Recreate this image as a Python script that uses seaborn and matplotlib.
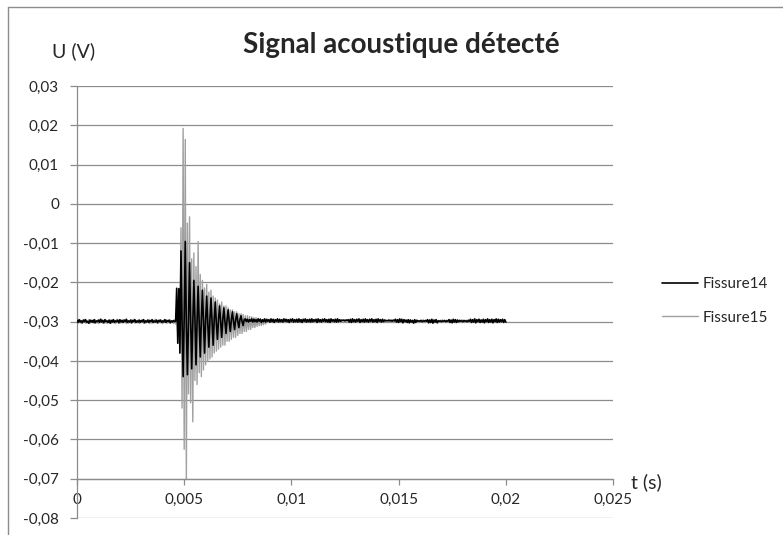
import numpy as np
import pandas as pd
import matplotlib
matplotlib.use("Agg")
import matplotlib.pyplot as plt
import seaborn as sns
from matplotlib.lines import Line2D

# ---------------- data ----------------
dt = 0.00005  # sampling step in seconds
series_names = ["Fissure14", "Fissure15"]

# Fissure14 samples in mV
u14_mV = [
    -29.7, -30.2, -29.5, -30.1, -29.8, -30.3, -29.6, -30.0, -29.5, -30.2,
    -29.9, -30.4, -29.6, -30.1, -29.7, -30.2, -29.5, -30.3, -29.8, -30.0,
    -29.6, -30.2, -29.4, -30.1, -29.7, -30.3, -29.5, -30.0, -29.8, -30.2,
    -29.6, -30.4, -29.7, -30.1, -29.5, -30.2, -29.8, -30.0, -29.6, -30.3,
    -29.5, -30.1, -29.7, -30.2, -29.6, -30.0, -29.4, -30.2, -29.8, -30.1,
    -29.6, -30.3, -29.7, -30.0, -29.5, -30.2, -29.8, -30.1, -29.6, -30.2,
    -29.7, -30.0, -29.5, -30.3, -29.8, -30.1, -29.6, -30.2, -29.7, -30.0,
    -29.5, -30.2, -29.8, -30.1, -29.6, -30.3, -29.7, -30.0, -29.6, -30.2,
    -29.8, -30.1, -29.5, -30.2, -29.7, -30.0, -29.6, -30.3, -29.8, -30.1,
    -29.7, -30.0, -29.9,
    # burst
    -21.5, -35.5, -21.6, -38.0,
    -12.0, -30.0, -44.0, -29.0, -9.6, -31.0, -43.5, -30.0,
    -15.0, -29.5, -42.0, -30.5, -19.5, -29.0, -41.0, -30.0,
    -21.0, -30.5, -39.0, -29.5, -22.0, -30.0, -38.0, -29.5,
    -23.5, -30.5, -36.5, -29.5, -24.0, -30.0, -36.0, -29.5,
    -25.0, -30.5, -34.5, -29.5, -26.0, -30.0, -34.0, -29.5,
    -26.5, -30.0, -33.0, -29.5, -27.0, -30.0, -32.5, -29.5,
    -27.5, -30.0, -32.0, -29.5, -28.0, -30.0, -31.5, -29.5,
    -28.5, -30.0, -31.0, -29.5,
    # tail
    -29.3, -30.0, -29.4, -30.1, -29.5, -29.9, -29.3, -30.1, -29.4, -30.0,
    -29.5, -30.1, -29.3, -29.9, -29.4, -30.2, -29.5, -30.0, -29.3, -30.1,
    -29.4, -29.9, -29.5, -30.1, -29.3, -30.0, -29.4, -30.2, -29.5, -29.9,
    -29.3, -30.1, -29.4, -30.0, -29.5, -30.1, -29.3, -29.9, -29.4, -30.0,
    -29.5, -30.2, -29.4, -29.9, -29.3, -30.1, -29.5, -30.0, -29.4, -30.1,
    -29.3, -30.0, -29.5, -30.2, -29.4, -29.9, -29.3, -30.1, -29.5, -30.0,
    -29.4, -30.1, -29.3, -30.0, -29.5, -29.9, -29.4, -30.2, -29.3, -30.0,
    -29.5, -30.1, -29.4, -29.9, -29.3, -30.0, -29.5, -30.1, -29.4, -30.2,
    -29.3, -29.9, -29.5, -30.0, -29.4, -30.1, -29.3, -30.0, -29.5, -29.9,
    -29.6, -29.7, -29.6, -29.8, -29.6, -29.7, -29.5, -30.1, -29.4, -30.2,
    -29.3, -30.0, -29.5, -30.1, -29.4, -29.9, -29.3, -30.2, -29.5, -30.0,
    -29.4, -30.1, -29.3, -30.0, -29.5, -30.1, -29.4, -29.9, -29.3, -30.1,
    -29.5, -30.0, -29.4, -30.2, -29.3, -29.9, -29.5, -30.1, -29.4, -30.0,
    -29.6, -29.8, -29.7, -29.8, -29.6, -29.8, -29.7, -29.9, -29.6, -29.8,
    -29.4, -30.1, -29.5, -30.2, -29.3, -30.0, -29.4, -30.3, -29.5, -30.0,
    -29.6, -30.2, -29.5, -30.3, -29.6, -30.1, -29.7, -30.4, -29.5, -30.2,
    -29.7, -29.9, -29.8, -29.9, -29.7, -30.0, -29.8, -29.9, -29.7, -29.9,
    -29.5, -30.3, -29.6, -30.2, -29.4, -30.4, -29.6, -30.1, -29.5, -30.3,
    -29.8, -29.9, -29.8, -30.0, -29.8, -29.9, -29.7, -30.0, -29.8, -29.9,
    -29.5, -30.2, -29.6, -30.3, -29.4, -30.1, -29.5, -30.2, -29.6, -30.0,
    -29.7, -29.9, -29.8, -30.0, -29.7, -29.9, -29.8, -30.0, -29.7, -29.9,
    -29.4, -30.2, -29.5, -30.1, -29.3, -30.3, -29.5, -30.0, -29.4, -30.2,
    -29.6, -30.1, -29.4, -30.3, -29.5, -30.0, -29.3, -30.2, -29.5, -30.1,
    -29.4, -30.3, -29.5, -30.0, -29.3, -30.2, -29.4, -30.1, -29.5, -30.0,
    -29.4, -30.2, -29.5, -30.1,
]

# Fissure15 samples in mV
u15_mV = [
    -30.4, -29.5, -30.3, -29.6, -30.5, -29.7, -30.2, -29.4, -30.4, -29.8,
    -30.3, -29.5, -30.5, -29.6, -30.2, -29.7, -30.4, -29.5, -30.3, -29.8,
    -30.5, -29.6, -30.2, -29.4, -30.4, -29.7, -30.3, -29.5, -30.5, -29.8,
    -30.2, -29.6, -30.4, -29.5, -30.3, -29.7, -30.5, -29.4, -30.2, -29.8,
    -30.4, -29.6, -30.3, -29.5, -30.2, -29.7, -30.5, -29.6, -30.4, -29.8,
    -30.3, -29.5, -30.2, -29.4, -30.4, -29.7, -30.3, -29.6, -30.5, -29.8,
    -30.2, -29.5, -30.4, -29.6, -30.3, -29.7, -30.2, -29.5, -30.5, -29.8,
    -30.4, -29.6, -30.3, -29.4, -30.2, -29.7, -30.4, -29.5, -30.3, -29.8,
    -30.5, -29.6, -30.2, -29.5, -30.4, -29.7, -30.3, -29.6, -30.2, -29.8,
    -30.5, -29.6, -30.6, -28.0, -33.0, -25.0, -36.0,
    # burst
    -6.1, -52.0, 19.2, -62.5, 16.4, -70.0, -4.9, -48.4, -3.3, -50.7,
    -14.0, -55.5, -12.5, -45.0, -16.0, -46.0, -9.6, -43.0, -18.0, -44.0,
    -19.5, -42.3, -21.4, -41.0, -20.5, -40.0, -22.5, -39.5, -22.0, -39.0,
    -23.5, -38.0, -24.0, -37.5, -24.5, -37.0, -25.5, -36.5, -25.0, -36.0,
    -26.0, -36.0, -26.0, -35.0, -26.5, -35.0, -27.0, -34.5, -27.0, -34.0,
    -27.5, -34.0, -27.5, -33.5, -28.0, -33.0, -28.0, -33.0, -28.2, -32.5,
    -28.5, -32.5, -28.5, -32.0, -28.7, -32.0, -28.8, -31.5, -29.0, -31.5,
    -29.0, -31.2, -29.2, -31.0, -29.3, -31.0, -29.5, -30.8, -29.5, -30.6,
    # tail
    -29.6, -30.1, -29.5, -30.0, -29.7, -30.2, -29.6, -29.9, -29.5, -30.1,
    -29.7, -30.0, -29.6, -30.2, -29.5, -29.9, -29.7, -30.1, -29.6, -30.0,
    -29.5, -30.2, -29.7, -29.9, -29.6, -30.1, -29.5, -30.0, -29.7, -30.2,
    -29.6, -29.9, -29.5, -30.1, -29.7, -30.0, -29.6, -30.2, -29.5, -29.9,
    -29.7, -30.1, -29.6, -30.0, -29.5, -30.2, -29.7, -29.9, -29.6, -30.1,
    -29.5, -30.0, -29.7, -30.2, -29.6, -29.9, -29.5, -30.1, -29.7, -30.0,
    -29.6, -30.2, -29.5, -29.9, -29.7, -30.1, -29.6, -30.0, -29.5, -30.2,
    -29.7, -29.9, -29.6, -30.1, -29.5, -30.0, -29.7, -30.2, -29.6, -29.9,
    -29.5, -30.1, -29.7, -30.0, -29.6, -30.2, -29.5, -29.9, -29.7, -30.1,
    -29.6, -30.0, -29.5, -30.2, -29.7, -29.9, -29.6, -30.1, -29.5, -30.0,
    -29.7, -30.2, -29.6, -29.9, -29.5, -30.1, -29.7, -30.0, -29.6, -30.2,
    -29.5, -29.9, -29.7, -30.1, -29.6, -30.0, -29.5, -30.2, -29.7, -29.9,
    -29.6, -30.1, -29.5, -30.0, -29.7, -30.2, -29.6, -29.9, -29.5, -30.1,
    -29.7, -30.0, -29.6, -30.2, -29.5, -29.9, -29.7, -30.1, -29.6, -30.0,
    -29.5, -30.2, -29.7, -29.9, -29.6, -30.1, -29.5, -30.0, -29.7, -30.2,
    -29.6, -29.9, -29.5, -30.1, -29.7, -30.0, -29.6, -30.2, -29.5, -29.9,
    -29.7, -30.1, -29.6, -30.0, -29.5, -30.2, -29.7, -29.9, -29.6, -30.1,
    -29.5, -30.0, -29.7, -30.2, -29.6, -29.9, -29.5, -30.1, -29.7, -30.0,
    -29.6, -30.2, -29.5, -29.9, -29.7, -30.1, -29.6, -30.0, -29.5, -30.2,
    -29.7, -29.9, -29.6, -30.1, -29.5, -30.0, -29.7, -30.2, -29.6, -29.9,
    -29.5, -30.1, -29.7, -30.0, -29.6, -30.2, -29.5, -29.9, -29.7, -30.1,
    -29.6, -30.0, -29.5, -30.2, -29.7, -29.9, -29.6, -30.1, -29.5, -30.0,
    -29.7, -30.1, -29.6, -30.0,
]

x_ticks = [0, 0.005, 0.01, 0.015, 0.02, 0.025]
x_tick_labels = ["0", "0,005", "0,01", "0,015", "0,02", "0,025"]
y_ticks = [0.03, 0.02, 0.01, 0.0, -0.01, -0.02, -0.03, -0.04, -0.05, -0.06, -0.07, -0.08]
y_tick_labels = ["0,03", "0,02", "0,01", "0", "-0,01", "-0,02", "-0,03", "-0,04",
                 "-0,05", "-0,06", "-0,07", "-0,08"]

title = "Signal acoustique détecté"
y_title = "U (V)"
x_title = "t (s)"

# ---------------- build table ----------------
frames = []
for name, vals in zip(series_names, [u14_mV, u15_mV]):
    v = np.asarray(vals) / 1000.0
    frames.append(pd.DataFrame({"t": np.arange(len(v)) * dt, "u": v, "serie": name}))
df = pd.concat(frames, ignore_index=True)

# ---------------- style ----------------
sns.set_style("white")
plt.rcParams["font.family"] = ["Lato", "DejaVu Sans"]

W, H = 783, 535
fig = plt.figure(figsize=(W / 100, H / 100), dpi=100)
ax = fig.add_axes([77 / W, 17 / H, 536 / W, 432 / H])

colors = {"Fissure14": "#000000", "Fissure15": "#a0a0a0"}
widths = {"Fissure14": 1.2, "Fissure15": 1.0}
zorders = {"Fissure14": 3, "Fissure15": 2}
for name in series_names:
    sns.lineplot(data=df[df["serie"] == name], x="t", y="u", ax=ax,
                 color=colors[name], linewidth=widths[name], estimator=None,
                 sort=False, label=name, zorder=zorders[name], legend=False)

ax.set_xlim(0, 0.025)
ax.set_ylim(-0.08, 0.03)
ax.set_xlabel("")
ax.set_ylabel("")

grid_c = "#8c8c8c"
ax.set_yticks(y_ticks)
ax.set_yticklabels(y_tick_labels)
ax.set_xticks(x_ticks)
ax.set_xticklabels(x_tick_labels)
ax.yaxis.grid(True, color=grid_c, linewidth=0.9, zorder=0)
ax.xaxis.grid(False)
ax.set_axisbelow(True)

for s in ["top", "right"]:
    ax.spines[s].set_visible(False)
ax.spines["left"].set_color(grid_c)
ax.spines["left"].set_linewidth(0.9)
ax.spines["bottom"].set_position(("data", -0.07))
ax.spines["bottom"].set_color(grid_c)
ax.spines["bottom"].set_linewidth(0.9)

ax.tick_params(axis="y", direction="out", length=5, width=0.9, color=grid_c,
               pad=8, labelsize=11, labelcolor="#262626", left=True)
ax.tick_params(axis="x", direction="out", length=4.5, width=0.9, color=grid_c,
               pad=6, labelsize=11, labelcolor="#262626", bottom=True)

# titles
fig.text(401 / W, 1 - 53 / H, title, ha="center", va="baseline",
         fontsize=20, fontweight="bold", color="#262626")
fig.text(74 / W, 1 - 51 / H, y_title, ha="center", va="center",
         fontsize=14, color="#262626")
fig.text(646 / W, 1 - 482 / H, x_title, ha="center", va="center",
         fontsize=14, color="#262626")

# legend
handles, labels = ax.get_legend_handles_labels()
fig.legend(handles, labels, loc="center left", bbox_to_anchor=(662 / W, 1 - 301 / H),
           frameon=False, fontsize=11, handlelength=2.35, handletextpad=0.33,
           labelspacing=1.25, borderpad=0, borderaxespad=0, labelcolor="#262626")

# outer chart border
fig.add_artist(Line2D([8 / W, 1.0], [1 - 7 / H, 1 - 7 / H], color="#8c8c8c", lw=1.0))
fig.add_artist(Line2D([8 / W, 8 / W], [0.0, 1 - 7 / H], color="#8c8c8c", lw=1.0))

fig.savefig("out.png", dpi=100)
